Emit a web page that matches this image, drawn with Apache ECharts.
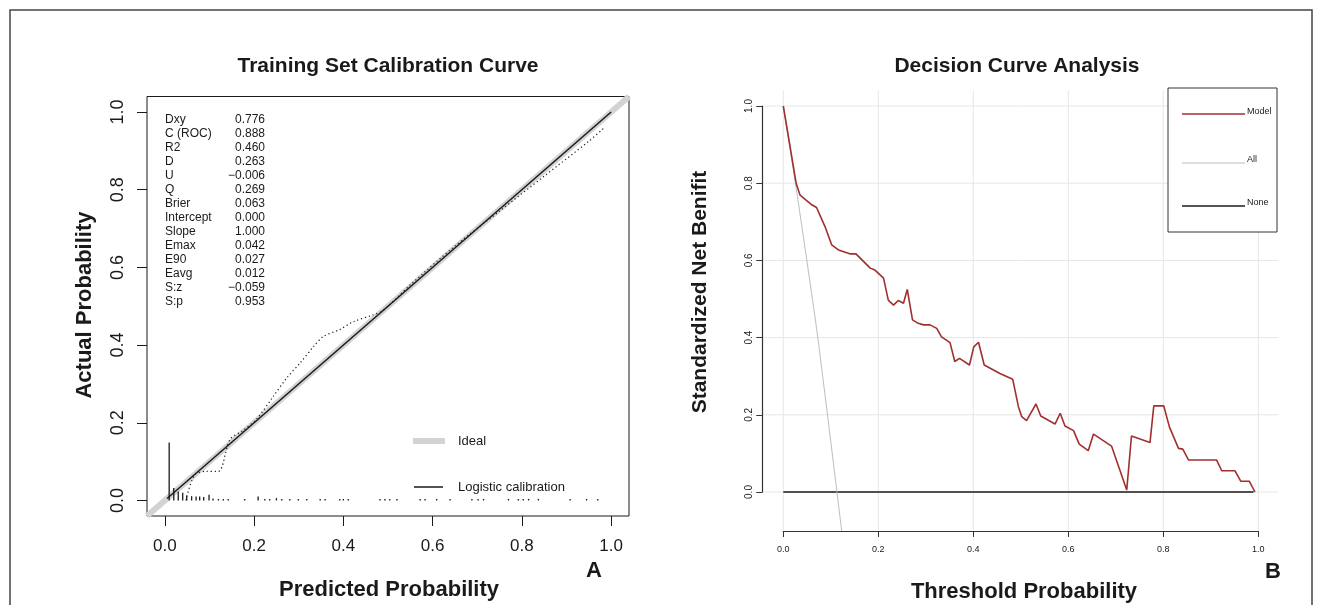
<!DOCTYPE html>
<html>
<head>
<meta charset="utf-8">
<title>Calibration curve and DCA</title>
<script src="https://cdn.jsdelivr.net/npm/echarts@6/dist/echarts.min.js"></script>
<style>
html, body { margin: 0; padding: 0; background: #fff; }
#chart { width: 1322px; height: 605px; }
</style>
</head>
<body>
<div id="chart"></div>
<script>
// ---- panel A : calibration ----
var calTicks = [0, 0.2, 0.4, 0.6, 0.8, 1.0];
var statNames = ['Dxy', 'C (ROC)', 'R2', 'D', 'U', 'Q', 'Brier', 'Intercept', 'Slope', 'Emax', 'E90', 'Eavg', 'S:z', 'S:p'];
var statValues = ['0.776', '0.888', '0.460', '0.263', '\u22120.006', '0.269', '0.063', '0.000', '1.000', '0.042', '0.027', '0.012', '\u22120.059', '0.953'];

var idealX = [-0.04, 1.04];
var idealY = [-0.04, 1.04];
var logisticX = [0.005, 1.0];
var logisticY = [0.005, 1.0];
// nonparametric (dotted) curve
var loessX = [0.047, 0.067, 0.093, 0.12, 0.146, 0.175, 0.206, 0.243, 0.273, 0.303, 0.333, 0.355, 0.392, 0.422, 0.467, 0.49, 0.55, 0.65, 0.75, 0.85, 0.95, 0.985];
var loessY = [0.0, 0.066, 0.075, 0.075, 0.157, 0.18, 0.21, 0.268, 0.315, 0.354, 0.396, 0.422, 0.44, 0.46, 0.478, 0.49, 0.555, 0.655, 0.745, 0.835, 0.925, 0.96];
// rug of predicted probabilities
var rugX = [0.0097, 0.02, 0.03, 0.04, 0.049, 0.06, 0.07, 0.078, 0.087, 0.099, 0.108, 0.12, 0.131, 0.142, 0.179, 0.209, 0.224, 0.235, 0.25, 0.262, 0.28, 0.299, 0.318, 0.348, 0.359, 0.392, 0.40, 0.411, 0.482, 0.493, 0.504, 0.52, 0.572, 0.583, 0.609, 0.639, 0.688, 0.702, 0.714, 0.77, 0.792, 0.803, 0.815, 0.837, 0.908, 0.945, 0.97];
var rugH = [0.149, 0.032, 0.023, 0.02, 0.013, 0.011, 0.01, 0.01, 0.009, 0.015, 0.005, 0.004, 0.004, 0.004, 0.004, 0.01, 0.004, 0.004, 0.006, 0.004, 0.004, 0.004, 0.004, 0.004, 0.004, 0.004, 0.004, 0.004, 0.004, 0.004, 0.004, 0.004, 0.004, 0.004, 0.004, 0.004, 0.004, 0.004, 0.004, 0.004, 0.004, 0.004, 0.004, 0.004, 0.004, 0.004, 0.004];

// ---- panel B : decision curve ----
var dcaTicks = [0, 0.2, 0.4, 0.6, 0.8, 1.0];
var modelX = [0, 0.027, 0.035, 0.046, 0.06, 0.07, 0.088, 0.102, 0.116, 0.14, 0.153, 0.183, 0.193, 0.211, 0.221, 0.232, 0.242, 0.253, 0.261, 0.272, 0.284, 0.295, 0.309, 0.323, 0.333, 0.351, 0.361, 0.371, 0.392, 0.401, 0.411, 0.423, 0.456, 0.483, 0.495, 0.502, 0.512, 0.532, 0.542, 0.572, 0.583, 0.593, 0.611, 0.623, 0.642, 0.653, 0.691, 0.723, 0.733, 0.772, 0.780, 0.801, 0.813, 0.832, 0.841, 0.853, 0.912, 0.923, 0.951, 0.963, 0.981, 0.993];
var modelY = [1.0, 0.80, 0.77, 0.758, 0.744, 0.737, 0.687, 0.640, 0.627, 0.617, 0.617, 0.58, 0.575, 0.554, 0.497, 0.484, 0.496, 0.489, 0.525, 0.446, 0.437, 0.433, 0.433, 0.424, 0.402, 0.387, 0.338, 0.346, 0.329, 0.376, 0.388, 0.329, 0.307, 0.292, 0.221, 0.195, 0.185, 0.228, 0.197, 0.176, 0.204, 0.171, 0.159, 0.124, 0.107, 0.150, 0.119, 0.005, 0.145, 0.128, 0.223, 0.223, 0.168, 0.113, 0.111, 0.083, 0.083, 0.055, 0.055, 0.028, 0.028, 0.0];
var allX = [0, 0.028, 0.07, 0.1, 0.123];
var allY = [1.0, 0.78, 0.424, 0.13, -0.101];
var noneX = [0, 0.99];
var noneY = [0, 0];

var FONT = '"Liberation Sans", Arial, sans-serif';

function zip(xs, ys) {
	var out = [];
	for (var i = 0; i < xs.length; i++) {
		out.push([xs[i], ys[i]]);
	}
	return out;
}

function fmt1(v) {
	return Number(v).toFixed(1);
}

function segment(a, b, color, width) {
	return {
		type: 'line',
		shape: { x1: a[0], y1: a[1], x2: b[0], y2: b[1] },
		style: { stroke: color, lineWidth: width }
	};
}

function rugItem(params, api) {
	var x = api.value(0);
	return segment(api.coord([x, 0]), api.coord([x, api.value(1)]), '#1a1a1a', 1.3);
}

function vGridItem(params, api) {
	var x = api.value(0);
	return segment(api.coord([x, -0.1]), api.coord([x, 1.04]), '#e6e6e6', 1);
}

function hGridItem(params, api) {
	var y = api.value(1);
	return segment(api.coord([-0.042, y]), api.coord([1.042, y]), '#e6e6e6', 1);
}

function label(text, x, y, font, opts) {
	opts = opts || {};
	return {
		type: 'text',
		x: x,
		y: y,
		rotation: opts.rotation || 0,
		z: 10,
		style: {
			text: text,
			font: font,
			fill: opts.fill || '#1a1a1a',
			textAlign: opts.align || 'center',
			textVerticalAlign: opts.valign || 'middle'
		}
	};
}

function buildGraphics() {
	var g = [];
	// outer frame
	g.push({ type: 'rect', shape: { x: 10, y: 10, width: 1302, height: 640 },
		style: { fill: 'none', stroke: '#444', lineWidth: 1.5 } });
	// titles
	g.push(label('Training Set Calibration Curve', 388, 66, 'bold 21px ' + FONT));
	g.push(label('Decision Curve Analysis', 1017, 66, 'bold 21px ' + FONT));
	g.push(label('Predicted Probability', 389, 590, 'bold 22px ' + FONT));
	g.push(label('Threshold Probability', 1024, 592, 'bold 22px ' + FONT));
	g.push(label('Actual Probability', 85, 305, 'bold 22px ' + FONT, { rotation: Math.PI / 2 }));
	g.push(label('Standardized Net Benifit', 700, 292, 'bold 21px ' + FONT, { rotation: Math.PI / 2 }));
	g.push(label('A', 594, 571, 'bold 22px ' + FONT));
	g.push(label('B', 1273, 572, 'bold 22px ' + FONT));
	// calibration statistics
	for (var i = 0; i < statNames.length; i++) {
		g.push(label(statNames[i], 165, 120 + i * 14, '12px ' + FONT, { align: 'left' }));
		g.push(label(statValues[i], 265, 120 + i * 14, '12px ' + FONT, { align: 'right' }));
	}
	// legend of panel A
	g.push(segment([413, 441], [445, 441], '#d3d3d3', 6));
	g.push(label('Ideal', 458, 441, '13px ' + FONT, { align: 'left' }));
	g.push(segment([414, 487], [443, 487], '#1a1a1a', 1.5));
	g.push(label('Logistic calibration', 458, 487, '13px ' + FONT, { align: 'left' }));
	// legend of panel B
	g.push({ type: 'rect', shape: { x: 1168, y: 88, width: 109, height: 144 },
		style: { fill: '#fff', stroke: '#333', lineWidth: 1 }, z: 5 });
	var narrow = '9px "Liberation Sans Narrow", ' + FONT;
	g.push(segment([1182, 114], [1245, 114], '#a03030', 1.6));
	g.push(label('Model', 1247, 112, narrow, { align: 'left' }));
	g.push(segment([1182, 163], [1245, 163], '#bdbdbd', 1));
	g.push(label('All', 1247, 160, narrow, { align: 'left' }));
	g.push(segment([1182, 206], [1245, 206], '#555', 2));
	g.push(label('None', 1247, 203, narrow, { align: 'left' }));
	for (var k = 0; k < g.length; k++) {
		if (g[k].type === 'line') { g[k].z = 10; }
	}
	return g;
}

var chart = echarts.init(document.getElementById('chart'));
var option = {
	animation: false,
	backgroundColor: '#fff',
	textStyle: { fontFamily: FONT },
	grid: [
		{ left: 147, top: 96.5, width: 482, height: 419.5, show: true, borderColor: '#1a1a1a', borderWidth: 1, backgroundColor: 'transparent' },
		{ left: 783.3, top: 106, width: 475, height: 386 }
	],
	xAxis: [
		{
			type: 'value', gridIndex: 0, min: -0.04, max: 1.04,
			axisLine: { show: false, onZero: false },
			splitLine: { show: false },
			axisTick: { show: true, customValues: calTicks, length: 10, lineStyle: { color: '#1a1a1a' } },
			axisLabel: { customValues: calTicks, formatter: fmt1, fontSize: 17, margin: 22, color: '#1a1a1a' }
		},
		{
			type: 'value', gridIndex: 1, min: 0, max: 1, interval: 0.2, offset: 39,
			axisLine: { show: true, onZero: false, lineStyle: { color: '#333', width: 1.2 } },
			splitLine: { show: false },
			axisTick: { show: true, length: 6, lineStyle: { color: '#333' } },
			axisLabel: { formatter: fmt1, fontSize: 9, margin: 14, color: '#1a1a1a' }
		}
	],
	yAxis: [
		{
			type: 'value', gridIndex: 0, min: -0.04, max: 1.04,
			axisLine: { show: false, onZero: false },
			splitLine: { show: false },
			axisTick: { show: true, customValues: calTicks, length: 10, lineStyle: { color: '#1a1a1a' } },
			axisLabel: { customValues: calTicks, formatter: fmt1, fontSize: 18, margin: 20, rotate: 90, color: '#1a1a1a' }
		},
		{
			type: 'value', gridIndex: 1, min: 0, max: 1, interval: 0.2, offset: 21,
			axisLine: { show: true, onZero: false, lineStyle: { color: '#333', width: 1.2 } },
			splitLine: { show: false },
			axisTick: { show: true, length: 6, lineStyle: { color: '#333' } },
			axisLabel: { formatter: fmt1, fontSize: 10, margin: 8, rotate: 90, color: '#1a1a1a' }
		}
	],
	series: [
		{ name: 'Ideal', type: 'line', xAxisIndex: 0, yAxisIndex: 0, data: zip(idealX, idealY),
			symbol: 'none', lineStyle: { color: '#d3d3d3', width: 6 }, z: 1 },
		{ name: 'Logistic calibration', type: 'line', xAxisIndex: 0, yAxisIndex: 0, data: zip(logisticX, logisticY),
			symbol: 'none', lineStyle: { color: '#1a1a1a', width: 1.5 }, z: 3 },
		{ name: 'Nonparametric', type: 'line', xAxisIndex: 0, yAxisIndex: 0, data: zip(loessX, loessY),
			symbol: 'none', smooth: 0.3, lineStyle: { color: '#1a1a1a', width: 1.2, type: [1.2, 2.8] }, z: 2 },
		{ name: 'rug', type: 'custom', xAxisIndex: 0, yAxisIndex: 0, data: zip(rugX, rugH),
			renderItem: rugItem, encode: { x: 0, y: 1 }, z: 3 },

		{ name: 'vgrid', type: 'custom', xAxisIndex: 1, yAxisIndex: 1,
			data: zip(dcaTicks, dcaTicks.map(function () { return 0; })),
			renderItem: vGridItem, encode: { x: 0, y: 1 }, z: 0 },
		{ name: 'hgrid', type: 'custom', xAxisIndex: 1, yAxisIndex: 1,
			data: zip(dcaTicks.map(function () { return 0; }), dcaTicks),
			renderItem: hGridItem, encode: { x: 0, y: 1 }, z: 0 },
		{ name: 'None', type: 'line', xAxisIndex: 1, yAxisIndex: 1, data: zip(noneX, noneY),
			symbol: 'none', clip: false, lineStyle: { color: '#505050', width: 2 }, z: 2 },
		{ name: 'All', type: 'line', xAxisIndex: 1, yAxisIndex: 1, data: zip(allX, allY),
			symbol: 'none', clip: false, smooth: 0.2, lineStyle: { color: '#bdbdbd', width: 1 }, z: 2 },
		{ name: 'Model', type: 'line', xAxisIndex: 1, yAxisIndex: 1, data: zip(modelX, modelY),
			symbol: 'none', clip: false, lineStyle: { color: '#a03030', width: 1.6 }, z: 3 }
	],
	graphic: buildGraphics()
};
chart.setOption(option);
</script>
</body>
</html>
